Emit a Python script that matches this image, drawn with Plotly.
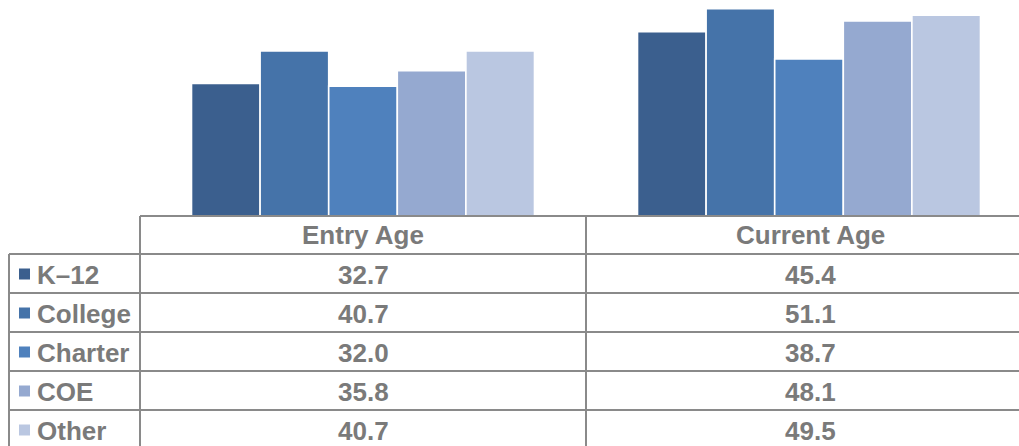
import plotly.graph_objects as go

# Data
categories = ["Entry Age", "Current Age"]
series_names = ["K–12", "College", "Charter", "COE", "Other"]
entry_age = [32.7, 40.7, 32.0, 35.8, 40.7]
current_age = [45.4, 51.1, 38.7, 48.1, 49.5]
colors = ["#3B5F8E", "#4573A9", "#4F81BD", "#95A9D0", "#BAC7E1"]

W, H = 1019, 446
PLOT_L, PLOT_R, PLOT_T, PLOT_B = 140, 1019, 0, 216
ROW_TOPS = [254, 293, 332, 371, 410, 449]
COL_X = [140, 586, 1034]
LABEL_L = 9
GRID = "#8A8A8A"
TEXT = "#7A7A7A"
FONT = "Liberation Sans, Arial, sans-serif"


def px(x):
    return (x - PLOT_L) / (PLOT_R - PLOT_L)


def py(y):
    return (PLOT_B - y) / (PLOT_B - PLOT_T)


fig = go.Figure()
for i, name in enumerate(series_names):
    fig.add_trace(go.Bar(
        x=categories,
        y=[entry_age[i], current_age[i]],
        name=name,
        marker=dict(color=colors[i], line=dict(color="white", width=1.6)),
        showlegend=False,
        hoverinfo="skip",
    ))

shapes = []
line = dict(color=GRID, width=2)
# Header row frame
shapes.append(dict(type="line", xref="paper", yref="paper",
                   x0=px(COL_X[0]), x1=px(W + 20), y0=py(PLOT_B), y1=py(PLOT_B), line=line))
for cx in COL_X[:2]:
    shapes.append(dict(type="line", xref="paper", yref="paper",
                       x0=px(cx), x1=px(cx), y0=py(PLOT_B), y1=py(H + 10), line=line))
# Row label column border
shapes.append(dict(type="line", xref="paper", yref="paper",
                   x0=px(LABEL_L), x1=px(LABEL_L), y0=py(ROW_TOPS[0]), y1=py(H + 10), line=line))
for ry in ROW_TOPS:
    shapes.append(dict(type="line", xref="paper", yref="paper",
                       x0=px(LABEL_L), x1=px(W + 20), y0=py(ry), y1=py(ry), line=line))

annotations = []
bold = dict(family=FONT, size=26, color=TEXT, weight="bold")
# Column headers
for j, cat in enumerate(categories):
    annotations.append(dict(xref="paper", yref="paper", x=px((COL_X[j] + COL_X[j + 1]) / 2),
                            y=py((PLOT_B + ROW_TOPS[0]) / 2), text=cat, showarrow=False,
                            font=bold, xanchor="center", yanchor="middle"))
values = [entry_age, current_age]
for i, name in enumerate(series_names):
    yc = (ROW_TOPS[i] + ROW_TOPS[i + 1]) / 2
    # legend key square
    shapes.append(dict(type="rect", xref="paper", yref="paper",
                       x0=px(19), x1=px(30), y0=py(yc - 5), y1=py(yc + 6),
                       fillcolor=colors[i], line=dict(width=0)))
    annotations.append(dict(xref="paper", yref="paper", x=px(35), y=py(yc + 1), text=name,
                            showarrow=False, font=bold, xanchor="left", yanchor="middle"))
    for j in range(2):
        annotations.append(dict(xref="paper", yref="paper",
                                x=px((COL_X[j] + COL_X[j + 1]) / 2), y=py(yc + 1),
                                text=f"{values[j][i]:.1f}", showarrow=False, font=bold,
                                xanchor="center", yanchor="middle"))

cat_width = COL_X[1] - COL_X[0]
fig.update_layout(
    width=W, height=H,
    margin=dict(l=PLOT_L, r=W - PLOT_R, t=PLOT_T, b=H - PLOT_B),
    paper_bgcolor="white", plot_bgcolor="white",
    barmode="group", bargap=0.231, bargroupgap=0,
    xaxis=dict(range=[-0.5, -0.5 + (PLOT_R - PLOT_L) / cat_width], showticklabels=False,
               showgrid=False, zeroline=False, showline=False, ticks=""),
    yaxis=dict(range=[0, 53.24], showticklabels=False, showgrid=False,
               zeroline=False, showline=False, ticks=""),
    shapes=shapes,
    annotations=annotations,
)

fig.write_html("out.html")
